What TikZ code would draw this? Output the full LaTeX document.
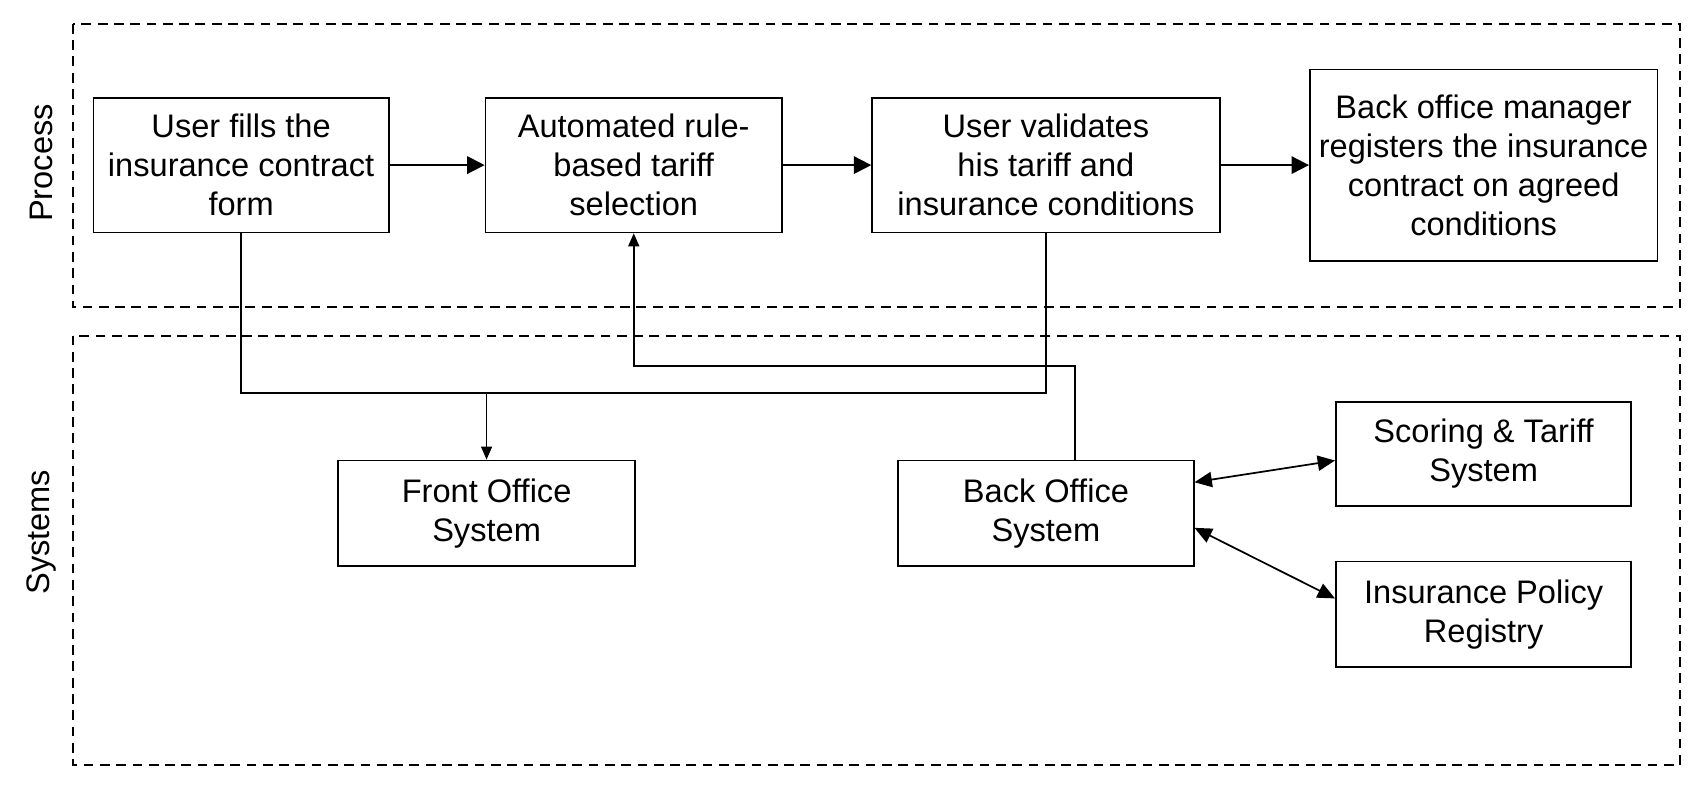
\documentclass[tikz,border=0pt]{standalone}
\usepackage{fontspec}
\setmainfont{Liberation Sans}
\usetikzlibrary{arrows.meta,positioning}
\tikzset{font=\fontsize{15}{18}\selectfont}
\tikzset{stepbox/.style={draw, line width=0.8pt, align=center, inner sep=0pt}}
\tikzset{lane/.style={line width=0.9pt, dash pattern=on 4.5pt off 3pt}}
\tikzset{flow/.style={line width=0.9pt, -{Triangle[length=8pt,width=8pt]}}}
\tikzset{feed/.style={line width=0.8pt, -{Triangle[length=6pt,width=5pt]}}}
\tikzset{link/.style={line width=0.8pt, {Triangle[length=8pt,width=7pt]}-{Triangle[length=8pt,width=7pt]}}}

\begin{document}
\begin{tikzpicture}[x=0.5pt,y=-0.5pt]
  \useasboundingbox (0,0) rectangle (1568,727.4);
  \draw[lane] (67,22) rectangle (1547,283);
  \draw[lane] (67,309) rectangle (1547,704);
  \node[rotate=90] (process) at (38,150) {Process};
  \node[rotate=90] (systems) at (38,490) {Systems};

  % process steps
  \node[stepbox, minimum width=136pt, minimum height=62pt] (fill) at (222,152)
    {User fills the\\insurance contract\\form};
  \node[stepbox, minimum width=136.5pt, minimum height=62pt] (tariff) at (583.5,152)
    {Automated rule-\\based tariff\\selection};
  \node[stepbox, minimum width=160pt, minimum height=62pt] (valid) at (963,152)
    {User validates\\his tariff and\\insurance conditions};
  \node[stepbox, minimum width=160pt, minimum height=88pt] (register) at (1366,152)
    {Back office manager\\registers the insurance\\contract on agreed\\conditions};

  % systems
  \node[stepbox, minimum width=136.5pt, minimum height=48.5pt] (front) at (448,472.5)
    {Front Office\\System};
  \node[stepbox, minimum width=136pt, minimum height=48.5pt] (back) at (963,472.5)
    {Back Office\\System};
  \node[stepbox, minimum width=136pt, minimum height=48pt] (scoring) at (1366,418)
    {Scoring \& Tariff\\System};
  \node[stepbox, minimum width=136pt, minimum height=48.5pt] (registry) at (1366,565.5)
    {Insurance Policy\\Registry};

  \draw[flow] (fill) -- (tariff);
  \draw[flow] (tariff) -- (valid);
  \draw[flow] (valid) -- (register);

  \coordinate (join) at (448,362);
  \coordinate (turn) at (990,337);
  \draw[line width=0.8pt] (fill.south) |- (join) -| (valid.south);
  \draw[feed] (join) -- (front.north);
  \draw[feed] ([xshift=13.5pt]back.north) -- (turn) -| (tariff.south);

  \draw[link] ([yshift=14.25pt]back.east) -- ([yshift=-3pt]scoring.west);
  \draw[link] ([yshift=-6.75pt]back.east) -- ([yshift=7.25pt]registry.west);
\end{tikzpicture}
\end{document}
